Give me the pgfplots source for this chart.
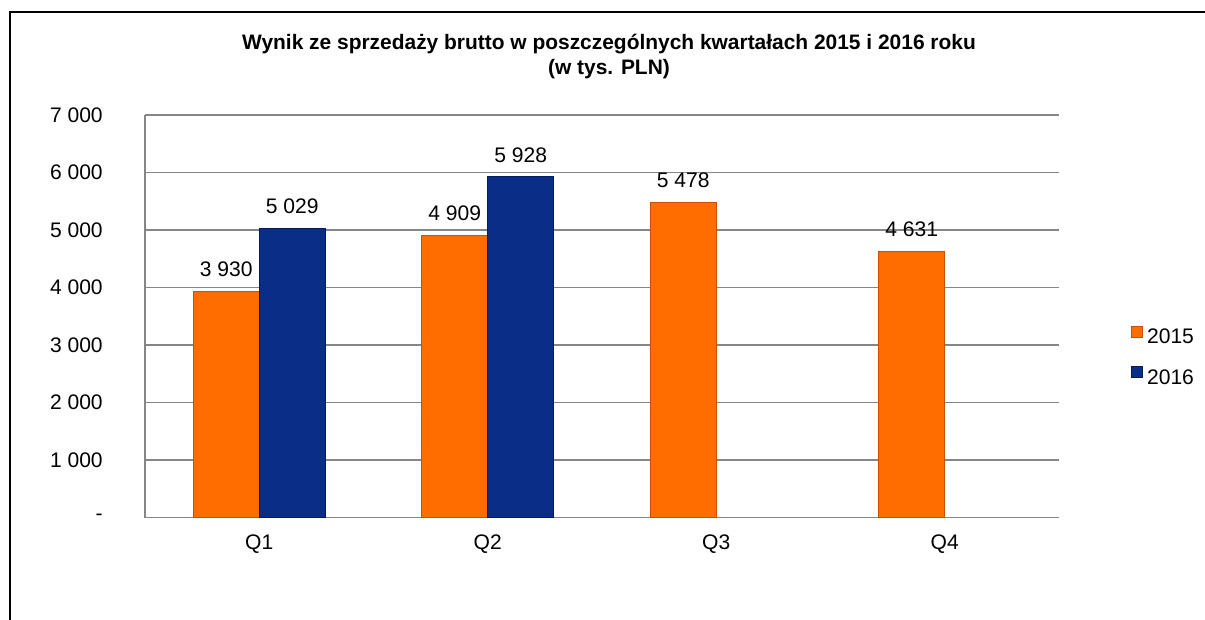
\documentclass[border=0pt]{standalone}
\usepackage{pgfplots}
\pgfplotsset{compat=1.18}
\usepackage{fontspec}
\setmainfont{Liberation Sans}
\definecolor{orangebar}{RGB}{255,108,0}
\definecolor{orangeedge}{RGB}{200,80,0}
\definecolor{bluebar}{RGB}{10,45,135}
\definecolor{blueedge}{RGB}{5,28,90}
\definecolor{gridgray}{RGB}{134,134,134}
\begin{document}
\begin{tikzpicture}[x=1pt,y=1pt]
\useasboundingbox (0,0) rectangle (903.75,464.25);
\draw[line width=1.5pt,black] (7.5,-2) -- (7.5,455.25) -- (906,455.25);
\node[anchor=base,font=\fontsize{15.7}{19}\selectfont\bfseries] at (456.75,426.75) {Wynik ze sprzedaży brutto w poszczególnych kwartałach 2015 i 2016 roku};
\node[anchor=base,font=\fontsize{15.7}{19}\selectfont\bfseries] at (456.75,408) {(w tys. PLN)};
\begin{axis}[
  at={(108.75pt,76pt)}, anchor=south west,
  scale only axis, width=685.5pt, height=302pt,
  ybar=0pt, bar width=49.5pt,
  xmin=-0.5, xmax=3.5, ymin=0, ymax=7000,
  xtick={0,1,2,3}, xticklabels={Q1,Q2,Q3,Q4},
  ytick={0,1000,...,7000},
  yticklabels={{-\hspace{9pt}},1 000,2 000,3 000,4 000,5 000,6 000,7 000},
  axis x line*=bottom, axis y line*=left,
  axis line style={gridgray, line width=1.1pt},
  ymajorgrids, major grid style={gridgray, line width=1.1pt},
  major tick length=0pt,
  tick label style={font=\fontsize{15.8}{19}\selectfont},
  yticklabel style={anchor=east, inner sep=0pt, xshift=-31.5pt},
  xticklabel style={anchor=north, inner sep=0pt, yshift=-12.5pt},
  /pgf/number format/.cd, fixed, precision=0, 1000 sep={\ }, assume math mode=true, /pgfplots/.cd,
  nodes near coords,
  every node near coord/.append style={font=\fontsize{15.8}{19}\selectfont, inner sep=0pt, anchor=south, yshift=10.5pt, black},
  legend style={at={(1.0788,0.404)}, anchor=west, draw=none, fill=none, inner sep=0pt,
    nodes={inner sep=0pt, text height=11.5pt, text depth=0pt, font=\fontsize{15.8}{19}\selectfont},
    row sep=17pt, /tikz/every odd column/.style={column sep=3pt}},
  legend cell align=left,
  legend image code/.code={\fill[#1] (0pt,-1pt) rectangle (8.25pt,7.25pt);},
  clip=false,
]
\addplot[fill=orangebar, draw=orangeedge, line width=0.6pt] coordinates {(0,3930) (1,4909) (2,5478) (3,4631)};
\addplot[fill=bluebar, draw=blueedge, line width=0.6pt] coordinates {(0,5029) (1,5928)};
\legend{2015,2016}
\end{axis}
\end{tikzpicture}
\end{document}
